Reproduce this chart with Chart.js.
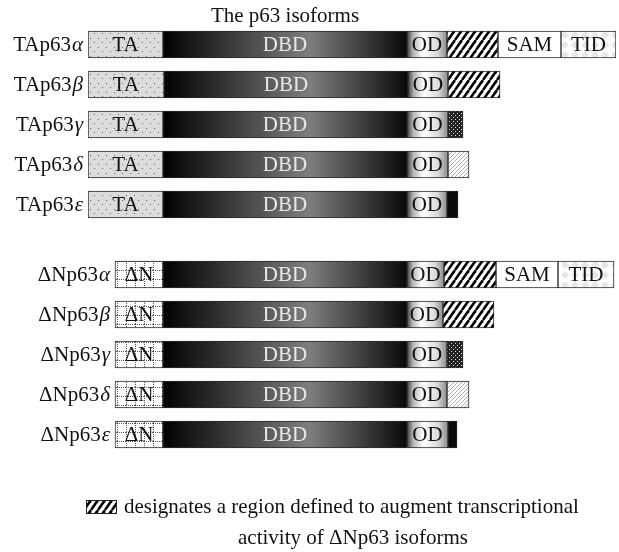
<!DOCTYPE html>
<html>
<head>
<meta charset="utf-8">
<script src="https://cdn.jsdelivr.net/npm/chart.js@4/dist/chart.umd.min.js"></script>
<style>
    body { margin: 0; background: #fff; }
    .chart { position: relative; width: 619px; height: 552px; }
</style>
</head>
<body>
<div class="chart"><canvas id="chart"></canvas></div>
<script>
// isoform rows (top to bottom)
const isoPrefix = ['TAp63', 'TAp63', 'TAp63', 'TAp63', 'TAp63', 'ΔNp63', 'ΔNp63', 'ΔNp63', 'ΔNp63', 'ΔNp63'];
const isoGreek = ['α', 'β', 'γ', 'δ', 'ε', 'α', 'β', 'γ', 'δ', 'ε'];
const rowPos = [0, 1, 2, 3, 4, 5.75, 6.75, 7.75, 8.75, 9.75];

// domain boundaries (relative units along the protein)
const ntLabel = ['TA', 'TA', 'TA', 'TA', 'TA', 'ΔN', 'ΔN', 'ΔN', 'ΔN', 'ΔN'];
const ntStart = [0, 0, 0, 0, 0, 27, 27, 27, 27, 27];
const dbdStart = [75, 76, 75, 75, 75, 75, 75, 75, 75, 75];
const odStart = [319, 320, 319, 319, 319, 319, 319, 319, 319, 319];
const odEnd = [359, 360, 360, 360, 359, 356, 355, 359, 359, 360];
const extEnd = [410, 412, 375, 381, 370, 408, 406, 375, 381, 369];
const extType = ['hatch', 'hatch', 'cross', 'light', 'black', 'hatch', 'hatch', 'cross', 'light', 'black'];
const samEnd = [473, null, null, null, null, 470, null, null, null, null];
const tidEnd = [528, null, null, null, null, 526, null, null, null, null];

const serif = '"Liberation Serif", "DejaVu Serif", serif';
const fontPx = 21;

function tile(w, h, draw) {
    const c = document.createElement('canvas');
    c.width = w; c.height = h;
    const g = c.getContext('2d');
    draw(g, w, h);
    return g.createPattern(c, 'repeat');
}

const patterns = {
    TA: tile(8, 9, (g) => {
        g.fillStyle = '#dcdcdc'; g.fillRect(0, 0, 8, 9);
        g.fillStyle = '#666'; g.fillRect(2, 2, 1, 1); g.fillRect(6, 6, 1, 1);
    }),
    'ΔN': tile(9, 9, (g) => {
        g.fillStyle = '#fff'; g.fillRect(0, 0, 9, 9);
        g.fillStyle = '#555';
        for (let i = 0; i < 9; i += 2) { g.fillRect(0, i, 1, 1); g.fillRect(i, 0, 1, 1); }
    }),
    hatch: tile(7, 10, (g, w, h) => {
        g.fillStyle = '#fff'; g.fillRect(0, 0, w, h);
        g.strokeStyle = '#000'; g.lineWidth = 2.6;
        for (const k of [-w, 0, w]) { g.beginPath(); g.moveTo(k, h); g.lineTo(k + w, 0); g.stroke(); }
    }),
    light: tile(4, 4, (g, w, h) => {
        g.fillStyle = '#fff'; g.fillRect(0, 0, w, h);
        g.strokeStyle = '#999'; g.lineWidth = 0.8;
        for (const k of [-w, 0, w]) { g.beginPath(); g.moveTo(k, h); g.lineTo(k + w, 0); g.stroke(); }
    }),
    cross: tile(4, 4, (g) => {
        g.fillStyle = '#222'; g.fillRect(0, 0, 4, 4);
        g.fillStyle = '#ddd'; g.fillRect(1, 1, 1, 1); g.fillRect(3, 3, 1, 1);
    }),
    black: '#0a0a0a',
    TID: tile(10, 10, (g) => {
        g.fillStyle = '#fff'; g.fillRect(0, 0, 10, 10);
        g.fillStyle = '#e6e6e6';
        g.beginPath(); g.moveTo(5, 1); g.lineTo(9, 5); g.lineTo(5, 9); g.lineTo(1, 5); g.closePath(); g.fill();
    })
};

function rows(starts, ends) {
    const out = [];
    rowPos.forEach((y, i) => {
        if (starts[i] != null && ends[i] != null) out.push({ x: [starts[i], ends[i]], y: y, i: i });
    });
    return out;
}

function gradientFill(stops) {
    return (ctx) => {
        const chart = ctx.chart;
        if (!ctx.raw || !chart.chartArea) return '#555';
        const xs = chart.scales.x;
        const g = chart.ctx.createLinearGradient(xs.getPixelForValue(ctx.raw.x[0]), 0, xs.getPixelForValue(ctx.raw.x[1]), 0);
        stops.forEach(s => g.addColorStop(s[0], s[1]));
        return g;
    };
}

const data = {
    datasets: [
        {
            label: 'N-terminal',
            data: rows(ntStart, dbdStart),
            backgroundColor: (ctx) => ctx.raw ? patterns[ntLabel[ctx.raw.i]] : '#ddd',
            inner: (i) => ntLabel[i],
            innerColor: '#111',
        },
        {
            label: 'DBD',
            data: rows(dbdStart, odStart),
            backgroundColor: gradientFill([[0, '#000'], [0.6, '#7e7e7e'], [1, '#080808']]),
            inner: () => 'DBD',
            innerColor: '#e8e8e8',
        },
        {
            label: 'OD',
            data: rows(odStart, odEnd),
            backgroundColor: gradientFill([[0, '#3a3a3a'], [0.15, '#b5b5b5'], [0.4, '#ffffff'], [0.75, '#dcdcdc'], [1, '#8a8a8a']]),
            inner: () => 'OD',
            innerColor: '#111',
        },
        {
            label: 'C-terminal',
            data: rows(odEnd, extEnd),
            backgroundColor: (ctx) => ctx.raw ? patterns[extType[ctx.raw.i]] : '#fff',
        },
        {
            label: 'SAM',
            data: rows(extEnd, samEnd),
            backgroundColor: '#fff',
            inner: () => 'SAM',
            innerColor: '#111',
        },
        {
            label: 'TID',
            data: rows(samEnd, tidEnd),
            backgroundColor: patterns.TID,
            inner: () => 'TID',
            innerColor: '#111',
        },
    ],
};

const textPlugin = {
    id: 'textPlugin',
    afterDatasetsDraw(chart) {
        const c = chart.ctx;
        const f = fontPx + 'px ' + serif;
        const fi = 'italic ' + fontPx + 'px ' + serif;
        c.save();
        c.font = f;
        c.textBaseline = 'middle';
        c.textAlign = 'center';
        chart.data.datasets.forEach((ds, d) => {
            if (!ds.inner) return;
            chart.getDatasetMeta(d).data.forEach((el, k) => {
                const p = el.getProps(['x', 'y', 'base'], true);
                c.fillStyle = ds.innerColor;
                c.fillText(ds.inner(ds.data[k].i), (p.x + p.base) / 2, p.y + 1);
            });
        });

        // row labels
        const ys = chart.scales.y, xs = chart.scales.x;
        rowPos.forEach((r, i) => {
            const right = xs.getPixelForValue(ntStart[i]) - 5;
            const y = ys.getPixelForValue(r) + 1;
            c.textAlign = 'left';
            c.font = fi;
            const wg = c.measureText(isoGreek[i]).width;
            c.font = f;
            const wp = c.measureText(isoPrefix[i]).width;
            c.fillStyle = '#111';
            c.fillText(isoPrefix[i], right - wg - wp - 1, y);
            c.font = fi;
            c.fillText(isoGreek[i], right - wg, y);
        });

        // title
        c.font = f;
        c.textAlign = 'center';
        c.fillText('The p63 isoforms', 285, 16);

        // legend
        c.fillStyle = patterns.hatch;
        c.fillRect(86, 500, 30, 13);
        c.strokeStyle = '#222';
        c.lineWidth = 1;
        c.strokeRect(86.5, 500.5, 30, 13);
        c.fillStyle = '#111';
        c.textAlign = 'left';
        c.fillText('designates a region defined to augment transcriptional', 124, 507);
        c.textAlign = 'center';
        c.fillText('activity of ΔNp63 isoforms', 353, 538);
        c.restore();
    }
};

const config = {
    type: 'bar',
    data: data,
    options: {
        indexAxis: 'y',
        responsive: true,
        maintainAspectRatio: false,
        animation: false,
        grouped: false,
        barThickness: 27,
        borderWidth: 1,
        borderColor: '#2a2a2a',
        borderSkipped: false,
        layout: { padding: { left: 88, right: 3, top: 24.5, bottom: 97.5 } },
        scales: {
            x: { type: 'linear', min: 0, max: 528, display: false },
            y: { type: 'linear', min: -0.5, max: 10.25, reverse: true, offset: false, display: false },
        },
        plugins: {
            legend: { display: false },
            tooltip: { enabled: false },
        },
    },
    plugins: [textPlugin],
};

new Chart(document.getElementById('chart'), config);
</script>
</body>
</html>
